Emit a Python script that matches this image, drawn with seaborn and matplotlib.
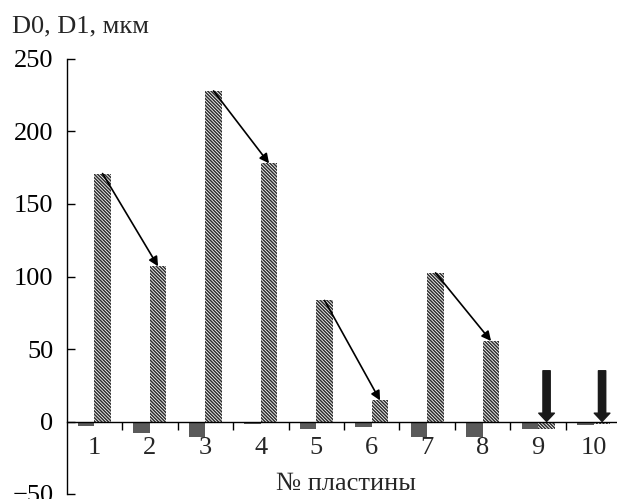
import numpy as np
import pandas as pd
import matplotlib
matplotlib.use("Agg")
import matplotlib.pyplot as plt
import seaborn as sns

# Plate numbers and measured sizes (µm)
plates = ["1", "2", "3", "4", "5", "6", "7", "8", "9", "10"]
d0_um = [171, 107, 228, 178, 83.5, 14.5, 102.5, 55.5, -5.5, -2.0]
d1_um = [-3.0, -8.0, -10.5, -1.5, -5.5, -4.0, -10.5, -10.5, -5.5, -2.3]

# Pairs of plates joined by a thin arrow, and plates marked with a bold arrow
arrow_pairs = [(0, 1), (2, 3), (4, 5), (6, 7)]
bold_marks = [8, 9]
bold_top = 35

y_ticks = [-50, 0, 50, 100, 150, 200, 250]

FS = 19

sns.set_style("ticks")
plt.rcParams["font.family"] = ["Liberation Serif", "DejaVu Serif"]
plt.rcParams["font.size"] = FS
plt.rcParams["hatch.linewidth"] = 1.1

df = pd.DataFrame({
    "plate": plates * 2,
    "series": ["D1"] * len(plates) + ["D0"] * len(plates),
    "value": d1_um + d0_um,
})

W, H = 617, 499
ax_left, ax_right, ax_top, ax_bottom = 66.5, 617, 59, 494
fig = plt.figure(figsize=(W / 100, H / 100), dpi=100)
ax = fig.add_axes([ax_left / W, 1 - ax_bottom / H,
                   (ax_right - ax_left) / W, (ax_bottom - ax_top) / H])

sns.barplot(data=df, x="plate", y="value", hue="series",
            hue_order=["D1", "D0"], order=plates,
            palette={"D1": "#5a5a5a", "D0": "white"},
            width=0.6, errorbar=None, legend=False, ax=ax)

solid_bars = ax.containers[0]
hatched_bars = ax.containers[1]
for p in solid_bars:
    p.set_linewidth(0)
for p in hatched_bars:
    p.set_facecolor("white")
    p.set_edgecolor("#2e2e2e")
    p.set_linewidth(0)
    p.set_hatch("\\" * 10)

def bar_top(p):
    return p.get_x() + p.get_width() / 2, p.get_height()

# Thin arrows between the hatched bars of each plate pair
for a, b in arrow_pairs:
    start = bar_top(hatched_bars[a])
    end = bar_top(hatched_bars[b])
    ax.annotate("", xy=end, xytext=start,
                arrowprops=dict(arrowstyle="-|>", color="black", lw=1.2,
                                shrinkA=0, shrinkB=0, mutation_scale=14))

# Bold downward arrows onto the near-zero plates
for i in bold_marks:
    x, _ = bar_top(hatched_bars[i])
    ax.annotate("", xy=(x, 0), xytext=(x, bold_top),
                arrowprops=dict(arrowstyle="simple,head_length=0.4,head_width=0.75,tail_width=0.35",
                                color="#1a1a1a", shrinkA=0, shrinkB=0,
                                mutation_scale=15))

# Axes styling
ax.set_ylim(-50, 250)
ax.set_xlim(-0.5, -0.5 + (617 - 66.5) / 55.5)
ax.set_yticks(y_ticks)
ax.tick_params(axis="y", direction="in", length=6, width=1, pad=9.5,
               labelsize=FS, colors="black")

ax.spines["top"].set_visible(False)
ax.spines["right"].set_visible(False)
ax.spines["left"].set_color("black")
ax.spines["left"].set_linewidth(1)
ax.spines["bottom"].set_position(("data", 0))
ax.spines["bottom"].set_color("black")
ax.spines["bottom"].set_linewidth(1)

n = len(plates)
ax.set_xticks(np.arange(n - 1) + 0.5)
ax.set_xticklabels([])
ax.set_xticks(np.arange(n), minor=True)
ax.set_xticklabels(plates, minor=True)
ax.tick_params(axis="x", which="major", direction="out", length=5.5, width=1,
               colors="black")
ax.tick_params(axis="x", which="minor", length=0, pad=11.5, labelsize=FS)

ax.set_xlabel("№ пластины", fontsize=FS)
ax.xaxis.label.set_va("baseline")
ax.xaxis.set_label_coords((346 - ax_left) / (ax_right - ax_left),
                          (ax_bottom - 490) / (ax_bottom - ax_top))
ax.set_ylabel("")
ax.grid(False)

fig.text(12 / W, 1 - 32 / H, "D0, D1, мкм", fontsize=FS,
         ha="left", va="baseline")

fig.savefig("out.png", dpi=100)
